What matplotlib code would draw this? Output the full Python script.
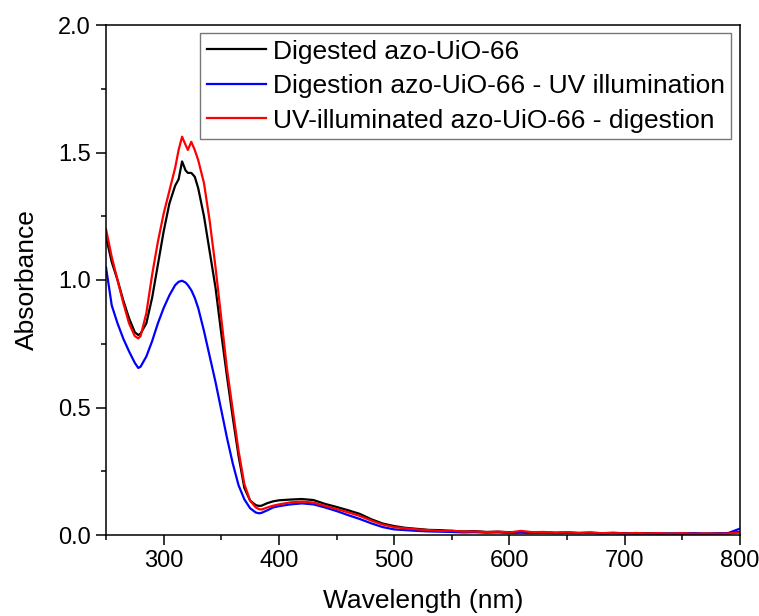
import matplotlib
matplotlib.use("Agg")
import matplotlib.pyplot as plt
from matplotlib.ticker import MultipleLocator, FormatStrFormatter

plt.rcParams['font.family'] = ['Liberation Sans', 'DejaVu Sans']

wavelength = [250, 255, 260, 265, 270, 275, 278, 280, 285, 290, 295, 300, 305, 310, 313, 316, 319, 321,
              324, 327, 330, 335, 340, 345, 350, 355, 360, 365, 370, 375, 380, 383, 385, 390, 395, 400,
              410, 420, 430, 440, 450, 460, 470, 480, 490, 500,
              510, 520, 530, 540, 550, 560, 570, 580, 590, 600, 610, 620, 630, 640, 650, 660, 670, 680,
              690, 700, 710, 720, 730, 740, 750, 760, 770, 780, 790, 800]

digested = [1.17, 1.07, 1.00, 0.92, 0.85, 0.795, 0.784, 0.79, 0.83, 0.93, 1.06, 1.19, 1.30, 1.37, 1.395,
            1.465, 1.43, 1.42, 1.42, 1.405, 1.36, 1.25, 1.11, 0.97, 0.79, 0.62, 0.46, 0.31, 0.185, 0.135,
            0.117, 0.114, 0.115, 0.125, 0.132, 0.136,
            0.139, 0.141, 0.137, 0.122, 0.110, 0.097, 0.083, 0.062, 0.045, 0.035,
            0.028, 0.024, 0.020, 0.019, 0.016, 0.014, 0.015, 0.012, 0.013, 0.011, 0.012, 0.010, 0.011,
            0.009, 0.010, 0.008, 0.009, 0.007, 0.008, 0.007, 0.006, 0.007, 0.005, 0.006, 0.005, 0.006,
            0.005, 0.006, 0.007, 0.012]

digestion_uv = [1.05, 0.90, 0.83, 0.77, 0.72, 0.675, 0.655, 0.66, 0.70, 0.76, 0.83, 0.89, 0.94, 0.98, 0.993,
                0.997, 0.99, 0.98, 0.96, 0.93, 0.89, 0.80, 0.70, 0.60, 0.49, 0.38, 0.28, 0.195, 0.14, 0.105,
                0.088, 0.085, 0.087, 0.097, 0.108, 0.113,
                0.120, 0.124, 0.120, 0.108, 0.094, 0.078, 0.063, 0.046, 0.031, 0.022,
                0.019, 0.016, 0.014, 0.013, 0.012, 0.010, 0.011, 0.009, 0.010, 0.008, 0.009, 0.008, 0.009,
                0.007, 0.008, 0.007, 0.008, 0.006, 0.007, 0.006, 0.007, 0.005, 0.006, 0.005, 0.006, 0.007,
                0.005, 0.006, 0.008, 0.025]

uv_digestion = [1.20, 1.09, 1.00, 0.91, 0.83, 0.78, 0.771, 0.78, 0.87, 1.02, 1.15, 1.26, 1.35, 1.44, 1.51,
                1.562, 1.53, 1.51, 1.542, 1.51, 1.47, 1.38, 1.23, 1.05, 0.85, 0.65, 0.49, 0.33, 0.20, 0.135,
                0.108, 0.101, 0.100, 0.108, 0.115, 0.120,
                0.128, 0.131, 0.127, 0.114, 0.102, 0.089, 0.075, 0.057, 0.041, 0.031,
                0.026, 0.022, 0.019, 0.016, 0.017, 0.013, 0.014, 0.011, 0.013, 0.010, 0.016, 0.011, 0.012,
                0.009, 0.011, 0.008, 0.010, 0.007, 0.009, 0.006, 0.008, 0.006, 0.007, 0.005, 0.007, 0.005,
                0.006, 0.005, 0.006, 0.010]

labels = ["Digested azo-UiO-66",
          "Digestion azo-UiO-66 - UV illumination",
          "UV-illuminated azo-UiO-66 - digestion"]
colors = ["#000000", "#0000ff", "#ff0000"]

fig = plt.figure(figsize=(7.59, 6.16), dpi=100)
ax = fig.add_axes([106/759, 1-535/616, (740-106)/759, (535-25)/616])

for y, lab, c in zip([digested, digestion_uv, uv_digestion], labels, colors):
    ax.plot(wavelength, y, color=c, lw=1.6, label=lab)

ax.set_xlim(250, 800)
ax.set_ylim(0, 2.0)
ax.xaxis.set_major_locator(MultipleLocator(100))
ax.xaxis.set_minor_locator(MultipleLocator(50))
ax.yaxis.set_major_locator(MultipleLocator(0.5))
ax.yaxis.set_minor_locator(MultipleLocator(0.25))
ax.yaxis.set_major_formatter(FormatStrFormatter('%.1f'))
ax.tick_params(which='major', direction='out', length=7, width=1.1, labelsize=17, pad=4,
               top=False, right=False)
ax.tick_params(which='minor', direction='out', length=3.6, width=1.1, top=False, right=False)
for s in ax.spines.values():
    s.set_linewidth(1.1)

ax.set_xlabel("Wavelength (nm)", fontsize=19, labelpad=12)
ax.set_ylabel("Absorbance", fontsize=19, labelpad=14)

leg = ax.legend(loc='upper left', bbox_to_anchor=((200-106)/634, 1-(33-25)/510), frameon=True,
                fancybox=False, fontsize=19, handlelength=2.25, handletextpad=0.25, labelspacing=0.4,
                borderpad=0.25, borderaxespad=0.0)
leg.get_frame().set_edgecolor('#555555')
leg.get_frame().set_linewidth(1.0)

fig.savefig("out.png", dpi=100)
